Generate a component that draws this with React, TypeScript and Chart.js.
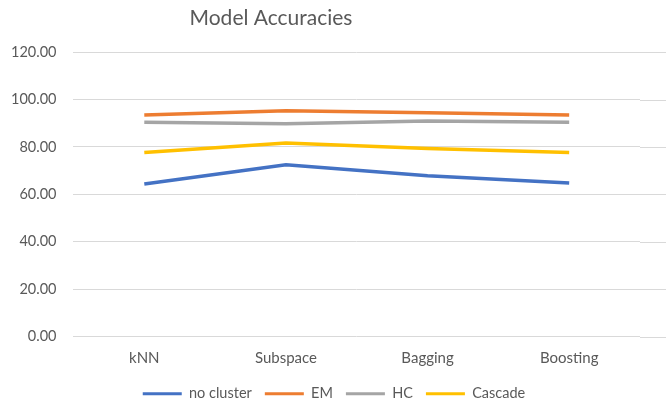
import React, { useEffect, useRef } from "react";
import { Chart, registerables } from "chart.js";

Chart.register(...registerables);

const categories = ["kNN", "Subspace", "Bagging", "Boosting"];
const noCluster = [64.4, 72.5, 67.9, 64.8];
const em = [93.5, 95.3, 94.4, 93.5];
const hc = [90.4, 89.8, 91.0, 90.4];
const cascade = [77.7, 81.7, 79.4, 77.7];

const FONT = "Lato, 'Open Sans', sans-serif";
const TEXT = "#595959";
const GRID = "#D9D9D9";
const TITLE_CENTER_X = 271;
const LEGEND_CENTER_X = 334;
const LEGEND_PAD = 13;
const LEGEND_VPAD = 6;

const layoutTweaks = {
  id: "layoutTweaks",
  afterInit(chart: any) {
    const l = chart.legend;
    if (l && !l.__patched) {
      const orig = l.fit.bind(l);
      l.fit = () => {
        orig();
        l.height -= 2 * (LEGEND_PAD - LEGEND_VPAD);
      };
      l.__patched = true;
    }
  },
  afterLayout(chart: any) {
    const t = chart.titleBlock;
    if (t) {
      const s = TITLE_CENTER_X - (t.left + t.right) / 2;
      t.left += s;
      t.right += s;
    }
    const l = chart.legend;
    if (l) {
      const s = LEGEND_CENTER_X - (l.left + l.right) / 2;
      l.left += s;
      l.right += s;
      const dy = LEGEND_PAD - LEGEND_VPAD;
      l.top -= dy;
      l.bottom = chart.height;
      l.height = l.bottom - l.top;
    }
  },
  beforeDatasetsDraw(chart: any) {
    const { ctx, chartArea } = chart;
    const y = chart.scales.y;
    ctx.save();
    ctx.strokeStyle = GRID;
    ctx.lineWidth = 1;
    y.ticks.forEach((t: any) => {
      const py = Math.round(y.getPixelForValue(t.value)) + 0.5;
      ctx.beginPath();
      ctx.moveTo(chartArea.right, py);
      ctx.lineTo(chart.width, py);
      ctx.stroke();
    });
    ctx.restore();
  },
};

export default function App() {
  const ref = useRef<HTMLCanvasElement>(null);
  useEffect(() => {
    const ctx = ref.current!;
    const mk = (label: string, data: number[], color: string) => ({
      label,
      data,
      borderColor: color,
      backgroundColor: color,
      borderWidth: 3.5,
      pointRadius: 0,
      tension: 0,
      fill: false,
    });
    const chart = new Chart(ctx, {
      type: "line",
      data: {
        labels: categories,
        datasets: [
          mk("no cluster", noCluster, "#4472C4"),
          mk("EM", em, "#ED7D31"),
          mk("HC", hc, "#A5A5A5"),
          mk("Cascade", cascade, "#FFC000"),
        ],
      },
      plugins: [layoutTweaks],
      options: {
        animation: false,
        responsive: false,
        layout: { padding: { left: -6, right: 26, top: 6, bottom: 0 } },
        plugins: {
          title: {
            display: true,
            text: "Model Accuracies",
            color: TEXT,
            font: { family: FONT, size: 21, weight: "normal" },
            padding: { top: 0, bottom: 21 },
          },
          legend: {
            position: "bottom",
            labels: {
              color: TEXT,
              font: { family: FONT, size: 14.5 },
              boxWidth: 39,
              boxHeight: 3,
              padding: LEGEND_PAD,
              generateLabels: (c: any) =>
                c.data.datasets.map((d: any, i: number) => ({
                  text: d.label,
                  fillStyle: d.borderColor,
                  strokeStyle: d.borderColor,
                  lineWidth: 0,
                  hidden: false,
                  datasetIndex: i,
                  fontColor: TEXT,
                })),
            },
          },
          tooltip: { enabled: false },
        },
        scales: {
          x: {
            offset: true,
            grid: { display: false, drawTicks: false },
            border: { display: false },
            ticks: {
              color: TEXT,
              font: { family: FONT, size: 15 },
              padding: 13,
            },
          },
          y: {
            min: 0,
            max: 120,
            ticks: {
              stepSize: 20,
              color: TEXT,
              font: { family: FONT, size: 14.5 },
              padding: 17,
              callback: (v: any) => Number(v).toFixed(2),
            },
            grid: { color: GRID, drawTicks: false },
            border: { display: false },
          },
        },
      },
    } as any);
    return () => chart.destroy();
  }, []);
  return (
    <div style={{ position: "fixed", left: 0, top: 0, width: 666, height: 404, background: "#fff" }}>
      <canvas ref={ref} width={666} height={404} />
    </div>
  );
}
